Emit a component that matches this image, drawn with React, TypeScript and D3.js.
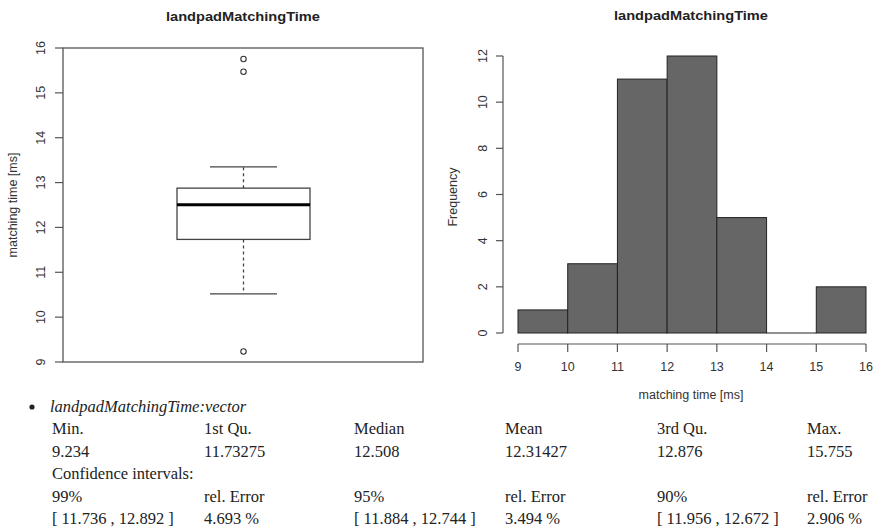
import React from "react";
import * as d3 from "d3";

const chartTitle = "landpadMatchingTime";
const boxTicks = [9, 10, 11, 12, 13, 14, 15, 16];
const boxStats = { lowerWhisker: 10.52, q1: 11.73275, median: 12.508, q3: 12.876, upperWhisker: 13.35 };
const boxOutliers = [15.755, 15.47, 9.234];

const binEdges = [9, 10, 11, 12, 13, 14, 15, 16];
const binCounts = [1, 3, 11, 12, 5, 0, 2];
const freqTicks = [0, 2, 4, 6, 8, 10, 12];

const summaryLabels = ["Min.", "1st Qu.", "Median", "Mean", "3rd Qu.", "Max."];
const summaryValues = ["9.234", "11.73275", "12.508", "12.31427", "12.876", "15.755"];
const ciHeaders = ["99%", "rel. Error", "95%", "rel. Error", "90%", "rel. Error"];
const ciValues = ["[ 11.736 , 12.892 ]", "4.693 %", "[ 11.884 , 12.744 ]", "3.494 %", "[ 11.956 , 12.672 ]", "2.906 %"];

const sans = "'Liberation Sans', Arial, Helvetica, sans-serif";
const serif = "'Liberation Serif', 'Times New Roman', serif";
const axisCol = "#555";
const textCol = "#333";

export default function App() {
  // Left box plot
  const yB = d3.scaleLinear().domain([9, 16]).range([362, 48]);
  const bx0 = 63, bx1 = 423;
  const cx = 243.5, halfBox = 66.5, halfCap = 33.5;

  // Histogram
  const xH = d3.scaleLinear().domain([9, 16]).range([518, 866]);
  const yH = d3.scaleLinear().domain([0, 12]).range([333, 56]);
  const bins = binCounts.map((c, i) => ({ x0: binEdges[i], x1: binEdges[i + 1], c }));

  const colX = [52, 204, 354, 505, 657, 807];
  const rowY = [433.5, 456.5, 479, 501.5, 523.5];

  return (
    <svg width={875} height={530} style={{ position: "absolute", left: 0, top: 0, background: "#fff" }}>
      {/* ---------- Box plot ---------- */}
      <text x={243} y={21} textAnchor="middle" fontFamily={sans} fontWeight="bold" fontSize={13} fill="#222"
        textLength={154} lengthAdjust="spacingAndGlyphs">{chartTitle}</text>
      <rect x={bx0} y={48} width={bx1 - bx0} height={362 - 48} fill="none" stroke={axisCol} strokeWidth={1.3} />
      {boxTicks.map((t) => (
        <g key={t}>
          <line x1={55} x2={bx0} y1={yB(t)} y2={yB(t)} stroke={axisCol} strokeWidth={1.2} />
          <text transform={`translate(44.5,${yB(t)}) rotate(-90)`} textAnchor="middle" fontFamily={sans} fontSize={12.5} fill={textCol}>{t}</text>
        </g>
      ))}
      <text transform={`translate(16.5,205) rotate(-90)`} textAnchor="middle" fontFamily={sans} fontSize={12.5} fill={textCol}>matching time [ms]</text>
      {/* whiskers */}
      <line x1={cx} x2={cx} y1={yB(boxStats.q3)} y2={yB(boxStats.upperWhisker)} stroke="#444" strokeWidth={1.3} strokeDasharray="3,3" />
      <line x1={cx} x2={cx} y1={yB(boxStats.q1)} y2={yB(boxStats.lowerWhisker)} stroke="#444" strokeWidth={1.3} strokeDasharray="3,3" />
      <line x1={cx - halfCap} x2={cx + halfCap} y1={yB(boxStats.upperWhisker)} y2={yB(boxStats.upperWhisker)} stroke="#444" strokeWidth={1.3} />
      <line x1={cx - halfCap} x2={cx + halfCap} y1={yB(boxStats.lowerWhisker)} y2={yB(boxStats.lowerWhisker)} stroke="#444" strokeWidth={1.3} />
      <rect x={cx - halfBox} y={yB(boxStats.q3)} width={2 * halfBox} height={yB(boxStats.q1) - yB(boxStats.q3)} fill="#fff" stroke="#444" strokeWidth={1.3} />
      <line x1={cx - halfBox} x2={cx + halfBox} y1={yB(boxStats.median)} y2={yB(boxStats.median)} stroke="#000" strokeWidth={3} />
      {boxOutliers.map((o, i) => (
        <circle key={i} cx={cx} cy={yB(o)} r={2.7} fill="none" stroke="#333" strokeWidth={1.1} />
      ))}

      {/* ---------- Histogram ---------- */}
      <text x={691} y={20} textAnchor="middle" fontFamily={sans} fontWeight="bold" fontSize={13} fill="#222"
        textLength={154} lengthAdjust="spacingAndGlyphs">{chartTitle}</text>
      {bins.map((b, i) =>
        b.c > 0 ? (
          <rect key={i} x={xH(b.x0)} y={yH(b.c)} width={xH(b.x1) - xH(b.x0)} height={yH(0) - yH(b.c)} fill="#666" stroke="#222" strokeWidth={1} />
        ) : (
          <line key={i} x1={xH(b.x0)} x2={xH(b.x1)} y1={yH(0)} y2={yH(0)} stroke="#222" strokeWidth={1} />
        )
      )}
      <line x1={503} x2={503} y1={yH(0)} y2={yH(12)} stroke={axisCol} strokeWidth={1.2} />
      {freqTicks.map((t) => (
        <g key={t}>
          <line x1={496} x2={503} y1={yH(t)} y2={yH(t)} stroke={axisCol} strokeWidth={1.2} />
          <text transform={`translate(486.5,${yH(t)}) rotate(-90)`} textAnchor="middle" fontFamily={sans} fontSize={12.5} fill={textCol}>{t}</text>
        </g>
      ))}
      <text transform={`translate(457,197) rotate(-90)`} textAnchor="middle" fontFamily={sans} fontSize={12.5} fill={textCol}>Frequency</text>
      <line x1={xH(9)} x2={xH(16)} y1={344} y2={344} stroke={axisCol} strokeWidth={1.2} />
      {binEdges.map((t) => (
        <g key={t}>
          <line x1={xH(t)} x2={xH(t)} y1={344} y2={352} stroke={axisCol} strokeWidth={1.2} />
          <text x={xH(t)} y={370.5} textAnchor="middle" fontFamily={sans} fontSize={12.5} fill={textCol}>{t}</text>
        </g>
      ))}
      <text x={691} y={399} textAnchor="middle" fontFamily={sans} fontSize={12.5} fill={textCol}>matching time [ms]</text>

      {/* ---------- Summary table ---------- */}
      <circle cx={32} cy={407} r={2.6} fill="#222" />
      <text x={50} y={412} fontFamily={serif} fontStyle="italic" fontSize={16.5} fill="#222">landpadMatchingTime:vector</text>
      {summaryLabels.map((s, i) => (
        <text key={"l" + i} x={colX[i]} y={rowY[0]} fontFamily={serif} fontSize={16.5} fill="#222">{s}</text>
      ))}
      {summaryValues.map((s, i) => (
        <text key={"v" + i} x={colX[i]} y={rowY[1]} fontFamily={serif} fontSize={16.5} fill="#222">{s}</text>
      ))}
      <text x={colX[0]} y={rowY[2]} fontFamily={serif} fontSize={16.5} fill="#222">Confidence intervals:</text>
      {ciHeaders.map((s, i) => (
        <text key={"h" + i} x={colX[i]} y={rowY[3]} fontFamily={serif} fontSize={16.5} fill="#222">{s}</text>
      ))}
      {ciValues.map((s, i) => (
        <text key={"c" + i} x={colX[i]} y={rowY[4]} fontFamily={serif} fontSize={16.5} fill="#222">{s}</text>
      ))}
    </svg>
  );
}
